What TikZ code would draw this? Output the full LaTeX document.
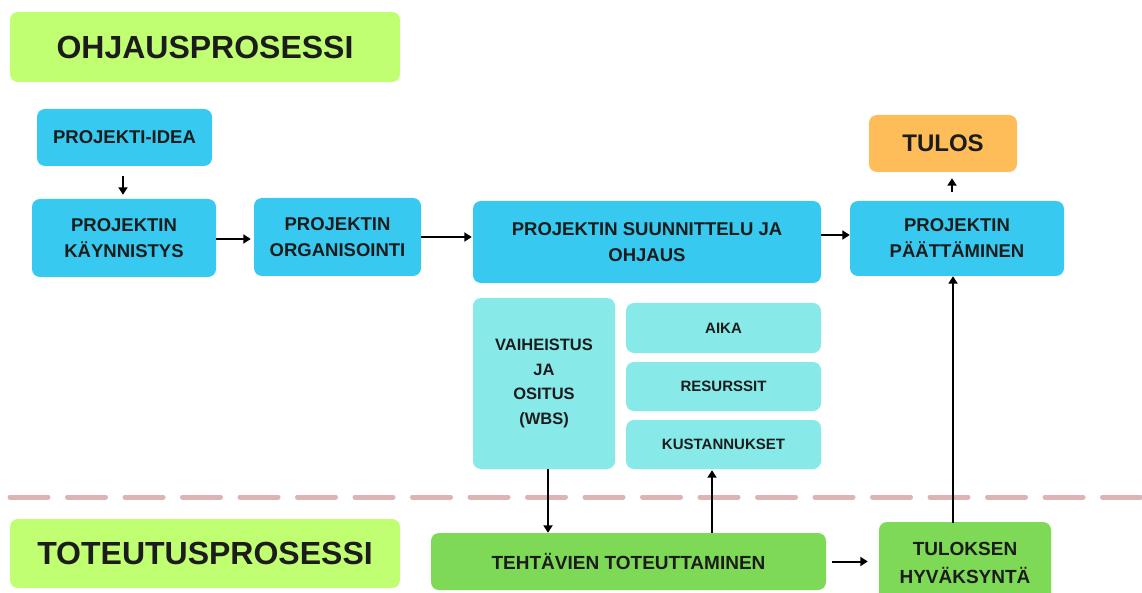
\documentclass[tikz,border=0pt]{standalone}
\usepackage{fontspec}
\setmainfont{Liberation Sans}
\usetikzlibrary{arrows.meta}
\definecolor{lime}{HTML}{C1FF72}
\definecolor{skyblue}{HTML}{38C9F0}
\definecolor{aqua}{HTML}{88E9E9}
\definecolor{leaf}{HTML}{7ED957}
\definecolor{amber}{HTML}{FFBD59}
\definecolor{ink}{HTML}{1C1C1C}
\definecolor{rosedash}{HTML}{DDB4B4}
\tikzset{
  box/.style={rounded corners=8pt, inner sep=0pt, align=center, text=ink,
    font=\bfseries\fontsize{18.5}{26}\selectfont},
  mainbox/.style={box, fill=skyblue},
  subbox/.style={box, fill=aqua, font=\bfseries\fontsize{15}{24}\selectfont},
  workbox/.style={box, fill=leaf},
  titlebox/.style={box, fill=lime, font=\bfseries\fontsize{32}{36}\selectfont},
  arr/.style={draw=black, line width=2pt, -{Triangle[length=7.5pt,width=9pt]}},
  dashline/.style={draw=rosedash, line width=5pt, line cap=round,
    dash pattern=on 38pt off 19.5pt},
}
\begin{document}
\begin{tikzpicture}[x=1pt, y=-1pt]
\useasboundingbox[fill=white] (0,0) rectangle (1142,593);

% process titles
\node[titlebox, minimum width=390pt, minimum height=70pt] (ohj) at (205,47) {OHJAUSPROSESSI};
\node[titlebox, minimum width=390pt, minimum height=69pt] (tot) at (205,553.5) {TOTEUTUSPROSESSI};

% steering process
\node[mainbox, minimum width=175pt, minimum height=57pt] (idea) at (124.5,137.5) {PROJEKTI-IDEA};
\node[mainbox, minimum width=184pt, minimum height=78pt] (kay) at (124,238) {PROJEKTIN\\KÄYNNISTYS};
\node[mainbox, minimum width=167pt, minimum height=78pt] (org) at (337.5,237) {PROJEKTIN\\ORGANISOINTI};
\node[mainbox, minimum width=348pt, minimum height=82pt] (suun) at (647,242) {PROJEKTIN SUUNNITTELU JA\\OHJAUS};
\node[mainbox, minimum width=214pt, minimum height=75pt] (paat) at (957,238.5) {PROJEKTIN\\PÄÄTTÄMINEN};
\node[box, fill=amber, minimum width=148pt, minimum height=57pt,
  font=\bfseries\fontsize{24}{28}\selectfont] (tulos) at (943,143.5) {TULOS};

% planning details
\node[subbox, minimum width=142pt, minimum height=171pt,
  font=\bfseries\fontsize{16.5}{24.5}\selectfont] (vaih) at (544,383.5) {VAIHEISTUS\\JA\\OSITUS\\(WBS)};
\node[subbox, minimum width=195pt, minimum height=50pt] (aika) at (723.5,328) {AIKA};
\node[subbox, minimum width=195pt, minimum height=49pt] (res) at (723.5,386.5) {RESURSSIT};
\node[subbox, minimum width=195pt, minimum height=49pt] (kust) at (723.5,444.5) {KUSTANNUKSET};

% execution process
\node[workbox, minimum width=395pt, minimum height=57pt,
  font=\bfseries\fontsize{19}{26}\selectfont] (teht) at (628.5,561.5) {TEHTÄVIEN TOTEUTTAMINEN};
\node[workbox, minimum width=172pt, minimum height=82pt,
  font=\bfseries\fontsize{19}{28}\selectfont] (tulok) at (965,563) {TULOKSEN\\HYVÄKSYNTÄ};

% boundary between the two processes
\coordinate (sepL) at (10,497);
\coordinate (sepR) at (1142,497);
\draw[dashline] (sepL) -- (sepR);

% flow
\draw[arr, shorten <=10pt, shorten >=4pt] ([xshift=-1.5pt]idea.south) -- ([xshift=-1pt]kay.north);
\draw[arr, shorten >=3pt] (kay.east |- 0,239) -- (org.west |- 0,239);
\draw[arr, shorten >=1pt] (org.east) -- (suun.west |- org.east);
\draw[arr] (suun.east |- 0,235) -- (paat.west |- 0,235);
\draw[arr, shorten <=9pt, shorten >=6pt] ([xshift=-5pt]paat.north) -- ([xshift=-5pt]paat.north |- tulos.south);
\draw[arr] ([xshift=4pt]vaih.south) -- ([xshift=4pt]vaih.south |- teht.north);
\draw[arr, shorten >=1pt] ([xshift=-11.5pt]kust.south |- teht.north) -- ([xshift=-11.5pt]kust.south);
\draw[arr] ([xshift=-4pt,yshift=-1pt]paat.south |- tulok.north) -- ([xshift=-4pt]paat.south);
\draw[arr, shorten <=6pt, shorten >=11pt] (teht.east) -- (tulok.west |- teht.east);
\end{tikzpicture}
\end{document}
